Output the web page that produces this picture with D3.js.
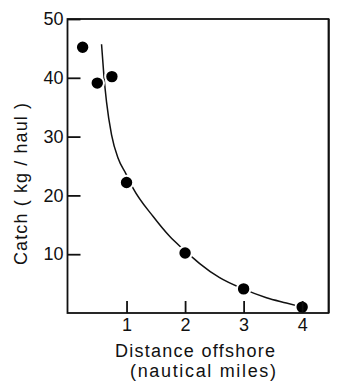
<!DOCTYPE html>
<html>
<head>
<meta charset="utf-8">
<script src="https://cdn.jsdelivr.net/npm/d3@7"></script>
<style>
  html, body { margin: 0; padding: 0; background: #fff; }
  svg { display: block; }
  text { font-family: "Liberation Sans", Arial, sans-serif; fill: #111; }
</style>
</head>
<body>
<svg id="chart" width="350" height="392"></svg>
<script>
// Observed data points
const distance = [0.25, 0.5, 0.75, 1, 2, 3, 4];
const catchKg  = [45.2, 39.1, 40.2, 22.2, 10.2, 4.1, 1.0];

// Fitted curve
const curveX = [0.573, 0.612, 0.658, 0.744, 0.856, 0.988, 1.113, 1.455, 1.74, 1.94, 2.11, 2.25, 2.59, 2.99, 3.39, 3.73, 4.0];
const curveY = [45.7, 40.5, 35.9, 30.3, 26.3, 23.7, 21.2, 16.4, 13.0, 11.1, 9.6, 8.4, 6.0, 4.1, 2.6, 1.7, 1.0];

// Tick values / labels
const xTicks = [1, 2, 3, 4];
const yTicks = [10, 20, 30, 40, 50];
const xTitle1 = "Distance offshore";
const xTitle2 = "(nautical miles)";
const yTitle = "Catch ( kg / haul )";

const svg = d3.select("#chart");
const x = d3.scaleLinear().domain([0, 4.45]).range([68, 328.5]);
const y = d3.scaleLinear().domain([0, 50]).range([313, 19]);

// Curve
const line = d3.line().x(d => x(d[0])).y(d => y(d[1])).curve(d3.curveMonotoneX);
svg.append("path")
  .datum(curveX.map((v, i) => [v, curveY[i]]))
  .attr("d", line)
  .attr("fill", "none")
  .attr("stroke", "#111")
  .attr("stroke-width", 1.5);

// Dots with white halo (gap in curve)
svg.append("g").selectAll("circle")
  .data(distance.map((v, i) => [v, catchKg[i]]))
  .join("circle")
  .attr("cx", d => x(d[0]))
  .attr("cy", d => y(d[1]))
  .attr("r", 6.7)
  .attr("fill", "#000")
  .attr("stroke", "#fff")
  .attr("stroke-width", 2);

// Axes
const fmt = d3.format("d");
const yAxis = d3.axisLeft(y).tickValues(yTicks).tickFormat(fmt).tickSizeInner(-13).tickSizeOuter(0).tickPadding(4);
const gy = svg.append("g").attr("transform", `translate(${x(0) - 0.5},0)`).call(yAxis);
gy.select(".domain").remove();
gy.selectAll(".tick line").attr("stroke", "#111").attr("stroke-width", 1.8);
gy.selectAll(".tick text").attr("font-size", 18).attr("font-family", "Liberation Sans, Arial, sans-serif").attr("fill", "#111");

const xAxis = d3.axisBottom(x).tickValues(xTicks).tickFormat(fmt).tickSizeInner(-12).tickSizeOuter(0).tickPadding(5);
const gx = svg.append("g").attr("transform", `translate(0,${y(0)})`).call(xAxis);
gx.select(".domain").remove();
gx.selectAll(".tick line").attr("stroke", "#111").attr("stroke-width", 1.8);
gx.selectAll(".tick text").attr("font-size", 18).attr("font-family", "Liberation Sans, Arial, sans-serif").attr("fill", "#111");

// Frame
const [x0, x1] = x.range();
const [y0, y1] = y.range();
svg.append("rect")
  .attr("x", x0 - 0.5).attr("y", y1)
  .attr("width", x1 - x0 + 0.5).attr("height", y0 - y1)
  .attr("fill", "none").attr("stroke", "#111").attr("stroke-width", 1.8);
svg.append("line")
  .attr("x1", x1 + 0.6).attr("x2", x1 + 0.6).attr("y1", y1).attr("y2", y0)
  .attr("stroke", "#111").attr("stroke-width", 1.2);

// Titles
svg.append("text").attr("x", 195).attr("y", 357).attr("text-anchor", "middle")
  .attr("font-size", 18).attr("textLength", 160).attr("lengthAdjust", "spacing").text(xTitle1);
svg.append("text").attr("x", 203).attr("y", 377).attr("text-anchor", "middle")
  .attr("font-size", 18).attr("textLength", 146).attr("lengthAdjust", "spacing").text(xTitle2);
svg.append("text").attr("transform", "translate(27,184) rotate(-90)").attr("text-anchor", "middle")
  .attr("font-size", 18).attr("textLength", 162).attr("lengthAdjust", "spacing").text(yTitle);
</script>
</body>
</html>
